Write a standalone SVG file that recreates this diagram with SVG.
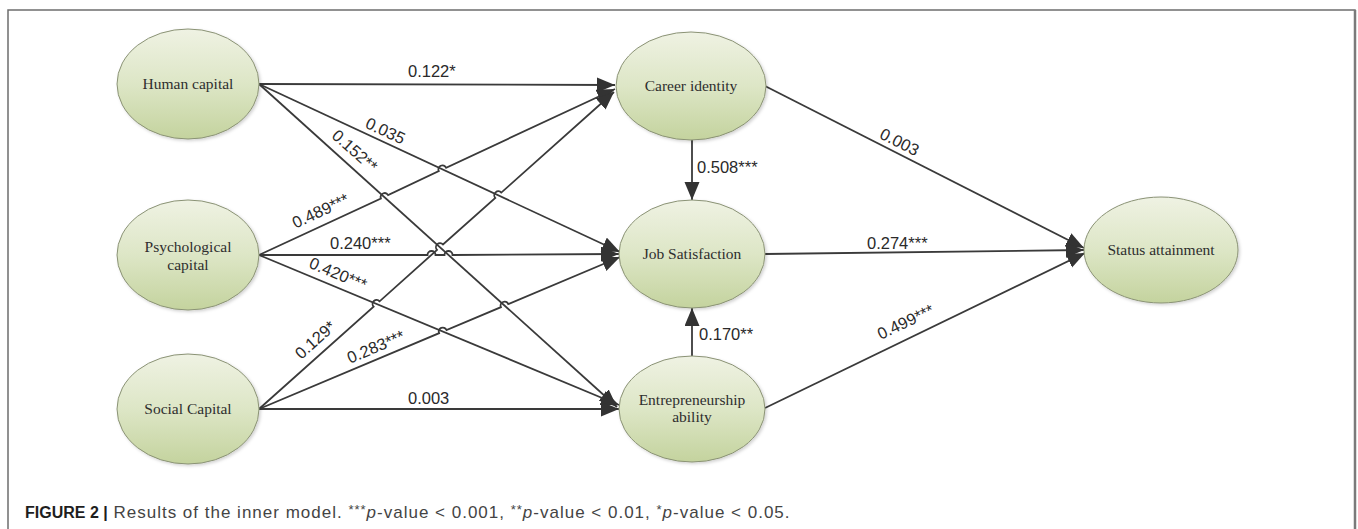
<svg xmlns="http://www.w3.org/2000/svg" width="1358" height="529" viewBox="0 0 1358 529">
  <style>
    .node ellipse { fill: url(#g); stroke: #8a9275; stroke-width: 1; filter: url(#sh); }
    .node text { font-family: "Liberation Serif", serif; font-size: 15.5px; fill: #2e2e2e; text-anchor: middle; }
    .edge { fill: none; stroke: #3a3a3a; stroke-width: 1.8; }
    .arr { marker-end: url(#ah); }
    .lbl { font-family: "Liberation Sans", Arial, sans-serif; font-size: 16.5px; fill: #2a2a2a; }
    .cap { font-family: "Liberation Sans", Arial, sans-serif; font-size: 16px; fill: #444; }
  </style>
  <defs>
    <linearGradient id="g" x1="0" y1="0" x2="0" y2="1">
      <stop offset="0" stop-color="#eff2e3"/>
      <stop offset="0.5" stop-color="#dde6c6"/>
      <stop offset="1" stop-color="#c4d39e"/>
    </linearGradient>
    <filter id="sh" x="-10%" y="-10%" width="125%" height="125%">
      <feDropShadow dx="1.5" dy="1.5" stdDeviation="1.5" flood-color="#000" flood-opacity="0.18"/>
    </filter>
    <marker id="ah" markerUnits="userSpaceOnUse" markerWidth="19" markerHeight="16" refX="18" refY="7.5" orient="auto">
      <path d="M0,0 L18,7.5 L0,15 z" fill="#333"/>
    </marker>
  </defs>
  <rect x="0" y="0" width="1358" height="529" fill="#fff"/>
  <!-- frame -->
  <path d="M8,529 L8,10 L1355,10 L1355,529" fill="none" stroke="#6e6e6e" stroke-width="1.5"/>
  <line x1="1355" y1="10" x2="1355" y2="529" stroke="#7a7a7a" stroke-width="2.5"/>

  <g id="connectors">
    <path class="edge arr" d="M259,84 L615,85"/>
    <path class="edge arr" d="M259,84 L620,252"/>
    <path class="edge arr" d="M259,84 L617,407"/>
    <path class="edge arr" d="M259,255 L380.9,198.5 A4,4 0 0 1 388.1,195.1 L438.8,171.1 A4,4 0 0 1 446.1,167.7 L615,89"/>
    <path class="edge arr" d="M259,255 L427.5,255 A4,4 0 0 1 435.5,255 L444.5,255 A4,4 0 0 1 452.5,255 L619,254"/>
    <path class="edge arr" d="M259,255 L619,405"/>
    <path class="edge arr" d="M259,409 L373.6,306.7 A4,4 0 0 1 379.6,301.3 L437,249.9 A4,4 0 0 1 443,244.5 L495.3,198 A4,4 0 0 1 501.3,192.6 L614,92"/>
    <path class="edge arr" d="M259,409 L439.1,333.2 A4,4 0 0 1 446.5,330 L500.9,307.2 A4,4 0 0 1 508.3,304.1 L620,257"/>
    <path class="edge arr" d="M259,409 L619,409"/>
    <path class="edge arr" d="M692,140 L692,200"/>
    <path class="edge arr" d="M692,356 L692,308"/>
    <path class="edge arr" d="M765,86 L1084,248"/>
    <path class="edge arr" d="M765,254 L1084,250"/>
    <path class="edge arr" d="M765,408 L1085,253"/>
  </g>

  <g id="labels">
    <text class="lbl" x="408" y="77">0.122*</text>
    <text class="lbl" text-anchor="middle" transform="translate(383,136) rotate(25)">0.035</text>
    <text class="lbl" text-anchor="middle" transform="translate(351,155) rotate(41.8)">0.152**</text>
    <text class="lbl" text-anchor="middle" transform="translate(323,216) rotate(-25)">0.489***</text>
    <text class="lbl" x="330" y="249">0.240***</text>
    <text class="lbl" text-anchor="middle" transform="translate(336,279) rotate(22.6)">0.420***</text>
    <text class="lbl" text-anchor="middle" transform="translate(319,344) rotate(-41.8)">0.129*</text>
    <text class="lbl" text-anchor="middle" transform="translate(378,352) rotate(-22.7)">0.283***</text>
    <text class="lbl" x="408" y="404">0.003</text>
    <text class="lbl" x="697" y="173">0.508***</text>
    <text class="lbl" x="699" y="340">0.170**</text>
    <text class="lbl" text-anchor="middle" transform="translate(897,147) rotate(26.8)">0.003</text>
    <text class="lbl" x="867" y="249">0.274***</text>
    <text class="lbl" text-anchor="middle" transform="translate(908,327) rotate(-25.5)">0.499***</text>
  </g>

  <g id="human-capital" class="node">
    <ellipse cx="188" cy="84" rx="71" ry="55"/>
    <text x="188" y="89">Human capital</text>
  </g>
  <g id="psychological-capital" class="node">
    <ellipse cx="188" cy="255" rx="71" ry="55"/>
    <text x="188" y="252">Psychological</text>
    <text x="188" y="270">capital</text>
  </g>
  <g id="social-capital" class="node">
    <ellipse cx="188" cy="409" rx="71" ry="55"/>
    <text x="188" y="414">Social Capital</text>
  </g>
  <g id="career-identity" class="node">
    <ellipse cx="691" cy="86" rx="75" ry="54"/>
    <text x="691" y="91">Career identity</text>
  </g>
  <g id="job-satisfaction" class="node">
    <ellipse cx="692" cy="254" rx="73" ry="54"/>
    <text x="692" y="259">Job Satisfaction</text>
  </g>
  <g id="entrepreneurship-ability" class="node">
    <ellipse cx="692" cy="409" rx="73" ry="53"/>
    <text x="692" y="405">Entrepreneurship</text>
    <text x="692" y="422">ability</text>
  </g>
  <g id="status-attainment" class="node">
    <ellipse cx="1161" cy="250" rx="77" ry="53"/>
    <text x="1161" y="255">Status attainment</text>
  </g>

  <text class="cap" x="25" y="518"><tspan font-weight="bold" fill="#1e1e1e">FIGURE 2 |</tspan><tspan font-size="17" letter-spacing="1"> Results of the inner model. <tspan font-size="13" dy="-4">***</tspan><tspan font-style="italic" dy="4">p</tspan>-value &lt; 0.001, <tspan font-size="13" dy="-4">**</tspan><tspan font-style="italic" dy="4">p</tspan>-value &lt; 0.01, <tspan font-size="13" dy="-4">*</tspan><tspan font-style="italic" dy="4">p</tspan>-value &lt; 0.05.</tspan></text>
</svg>
